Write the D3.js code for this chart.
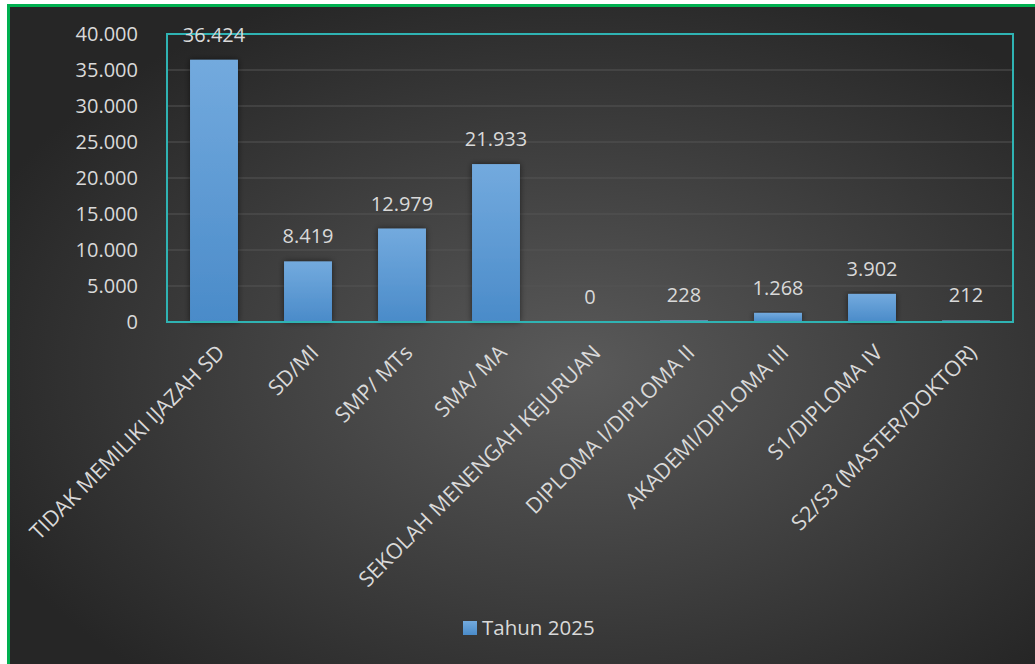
<!DOCTYPE html>
<html><head><meta charset="utf-8">
<script src="https://cdn.jsdelivr.net/npm/d3@7"></script>
<style>html,body{margin:0;padding:0;background:#fff;overflow:hidden}</style>
</head><body>
<svg id="chart" width="1035" height="664"></svg>
<script>
const categories = ["TIDAK MEMILIKI IJAZAH SD","SD/MI","SMP/ MTs","SMA/ MA","SEKOLAH MENENGAH KEJURUAN","DIPLOMA I/DIPLOMA II","AKADEMI/DIPLOMA III","S1/DIPLOMA IV","S2/S3 (MASTER/DOKTOR)"];
const values = [36424, 8419, 12979, 21933, 0, 228, 1268, 3902, 212];
const yTicks = [0, 5000, 10000, 15000, 20000, 25000, 30000, 35000, 40000];
const seriesName = "Tahun 2025";

const W = 1035, H = 664;
const svg = d3.select("#chart");
const defs = svg.append("defs");
const bg = defs.append("radialGradient").attr("id","bg").attr("cx","0.55").attr("cy","0.55").attr("r","0.62");
bg.append("stop").attr("offset","0").attr("stop-color","#5a5a5a");
bg.append("stop").attr("offset","1").attr("stop-color","#262626");
const bar = defs.append("linearGradient").attr("id","bar").attr("x1",0).attr("y1",0).attr("x2",0).attr("y2",1);
bar.append("stop").attr("offset","0").attr("stop-color","#73aade");
bar.append("stop").attr("offset","1").attr("stop-color","#4a8bc9");
const sh = defs.append("filter").attr("id","sh").attr("x","-30%").attr("y","-10%").attr("width","160%").attr("height","120%");
sh.append("feGaussianBlur").attr("in","SourceAlpha").attr("stdDeviation",3);
sh.append("feOffset").attr("dx",0).attr("dy",0).attr("result","b");
sh.append("feComponentTransfer").append("feFuncA").attr("type","linear").attr("slope",0.55);
const m = sh.append("feMerge"); m.append("feMergeNode"); m.append("feMergeNode").attr("in","SourceGraphic");

// background + green frame
svg.append("rect").attr("x",7).attr("y",4).attr("width",W).attr("height",H).attr("fill","url(#bg)");
svg.append("rect").attr("x",8.5).attr("y",5.5).attr("width",W+10).attr("height",H+10)
  .attr("fill","none").attr("stroke","#00b050").attr("stroke-width",3);

const pl = 167, pr = 1013, pt = 34, pb = 322;
const x = d3.scaleBand().domain(categories).range([pl, pr]).paddingInner(0.49).paddingOuter(0.245);
const y = d3.scaleLinear().domain([0, 40000]).range([pb, pt]);
const fmt = v => d3.format(",")(v).replace(/,/g, ".");
const font = "'Open Sans', sans-serif";

// gridlines
svg.append("g").selectAll("line").data(yTicks.filter(t => t > 0 && t < 40000)).join("line")
  .attr("x1", pl).attr("x2", pr).attr("y1", d => y(d)).attr("y2", d => y(d))
  .attr("stroke", "#555555").attr("stroke-width", 1.2);

// y axis labels
const yAxis = d3.axisLeft(y).tickValues(yTicks).tickFormat(fmt).tickSize(0).tickPadding(0);
const ya = svg.append("g").attr("transform", `translate(${pl - 29},-1)`).call(yAxis);
ya.select(".domain").remove();
ya.selectAll("text").attr("fill", "#d9d9d9").style("font-family", font).style("font-size", "20px").attr("dy", "0.36em");

// bars
svg.append("g").selectAll("rect").data(values).join("rect")
  .attr("x", (d, i) => x(categories[i])).attr("width", x.bandwidth())
  .attr("y", d => y(d)).attr("height", d => pb - y(d))
  .attr("fill", "url(#bar)").attr("filter", "url(#sh)");

// plot border
svg.append("rect").attr("x", pl).attr("y", pt).attr("width", pr - pl).attr("height", pb - pt)
  .attr("fill", "none").attr("stroke", "#2fb3b3").attr("stroke-width", 2);

// data labels
svg.append("g").selectAll("text").data(values).join("text")
  .attr("x", (d, i) => x(categories[i]) + x.bandwidth() / 2).attr("y", d => y(d) - 18)
  .attr("text-anchor", "middle").attr("fill", "#d9d9d9")
  .style("font-family", font).style("font-size", "20px").text(d => fmt(d));

// category labels
const xAxis = d3.axisBottom(x).tickSize(0).tickPadding(0);
const xa = svg.append("g").attr("transform", `translate(0,${pb})`).call(xAxis);
xa.select(".domain").remove();
xa.selectAll("text").attr("fill", "#d9d9d9").style("font-family", font).style("font-size", "21.5px")
  .attr("text-anchor", "end").attr("dy", "0").attr("y", 0)
  .attr("transform", "translate(12,32) rotate(-45)");

// legend
const lg = svg.append("g");
lg.append("rect").attr("x", 463).attr("y", 621).attr("width", 14).attr("height", 14).attr("fill", "url(#bar)");
lg.append("text").attr("x", 482).attr("y", 635).attr("fill", "#d9d9d9")
  .style("font-family", font).style("font-size", "20.5px").text(seriesName);
</script>
</body></html>
